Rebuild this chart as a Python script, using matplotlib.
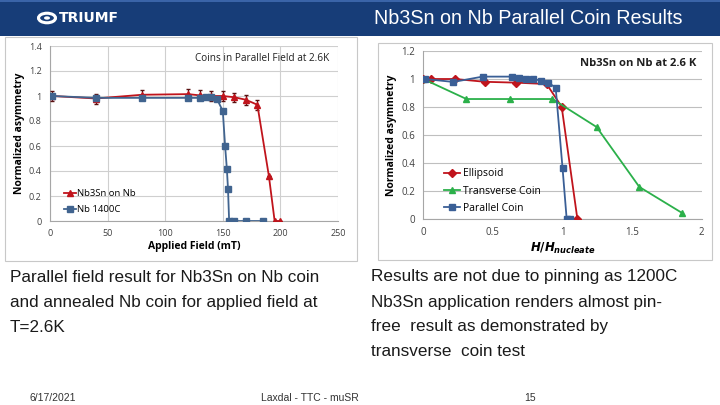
import matplotlib.pyplot as plt
from matplotlib.patches import Rectangle, Circle

# left chart: coins in parallel field at 2.6K
field_nb3sn = [2, 40, 80, 120, 130, 140, 150, 160, 170, 180, 190, 195, 200]
asym_nb3sn = [1.0, 0.98, 1.01, 1.015, 1.005, 1.0, 1.0, 0.99, 0.97, 0.93, 0.36, 0.0, 0.0]
err_nb3sn = [0.04, 0.04, 0.04, 0.04, 0.04, 0.04, 0.04, 0.035, 0.04, 0.04, 0, 0, 0]
field_nb1400 = [2, 40, 80, 120, 130, 135, 140, 145, 150, 152, 153.5, 154.5, 155.5, 160, 170, 185]
asym_nb1400 = [1.0, 0.985, 0.985, 0.985, 0.985, 0.99, 0.995, 0.975, 0.88, 0.6, 0.42, 0.26, 0.0, 0.0, 0.0, 0.0]

# right chart: Nb3Sn on Nb at 2.6 K vs H/Hnucleate
h_ellipsoid = [0.0, 0.055, 0.228, 0.443, 0.663, 0.886, 0.994, 1.107]
a_ellipsoid = [1.0, 1.0, 1.0, 0.98, 0.974, 0.964, 0.802, 0.0]
h_transverse = [0.0, 0.31, 0.623, 0.927, 1.245, 1.552, 1.856]
a_transverse = [1.0, 0.857, 0.857, 0.857, 0.657, 0.229, 0.045]
h_parallel = [0.01, 0.216, 0.426, 0.635, 0.687, 0.738, 0.79, 0.846, 0.898, 0.951, 1.0, 1.03, 1.054]
a_parallel = [1.0, 0.979, 1.017, 1.017, 1.01, 1.002, 1.0, 0.988, 0.974, 0.938, 0.367, 0.0, 0.0]

slide_title = "Nb3Sn on Nb Parallel Coin Results"
left_caption = ["Parallel field result for Nb3Sn on Nb coin",
                "and annealed Nb coin for applied field at",
                "T=2.6K"]
right_caption = ["Results are not due to pinning as 1200C",
                 "Nb3Sn application renders almost pin-",
                 "free  result as demonstrated by",
                 "transverse  coin test"]

W, H = 720, 405
plt.rcParams['mathtext.fontset'] = 'custom'
plt.rcParams['mathtext.it'] = 'DejaVu Sans:italic:bold'
plt.rcParams['mathtext.rm'] = 'DejaVu Sans:bold'
fig = plt.figure(figsize=(7.2, 4.05), dpi=100)
body_font = ['Liberation Sans', 'DejaVu Sans']
chart_font = ['Open Sans', 'DejaVu Sans']

def fx(px):
    return px / W

def fy(py):
    return 1 - py / H

# header banner
fig.patches.append(Rectangle((0, fy(36)), 1, 36 / H, transform=fig.transFigure,
                             facecolor='#173d78', edgecolor='none', zorder=-2))
fig.patches.append(Rectangle((0, fy(2)), 1, 2 / H, transform=fig.transFigure,
                             facecolor='#3a64a8', edgecolor='none', zorder=-1))
fig.patches.append(Circle((fx(47), fy(18)), 8.5 / W, transform=fig.transFigure,
                          facecolor='none', edgecolor='white', lw=2.2, zorder=-1))
fig.patches.append(Circle((fx(47), fy(18)), 3 / W, transform=fig.transFigure,
                          facecolor='white', edgecolor='none', zorder=-1))
fig.text(fx(59), fy(18), "TRIUMF", color='white', fontsize=10, fontweight='bold',
         family='DejaVu Sans', va='center', ha='left')
fig.text(fx(683), fy(18), slide_title, color='white', fontsize=14.2,
         family='Liberation Sans', va='center', ha='right')

# image frames
for x0, y0, x1, y1 in [(5, 37, 357, 261), (378, 43, 712, 260)]:
    fig.patches.append(Rectangle((fx(x0), fy(y1)), (x1 - x0) / W, (y1 - y0) / H,
                                 transform=fig.transFigure, facecolor='white',
                                 edgecolor='#c8c8c8', lw=0.8, zorder=-2))

def style_axes(ax):
    ax.set_facecolor('none')
    for s in ['top', 'right']:
        ax.spines[s].set_visible(False)
    for s in ['left', 'bottom']:
        ax.spines[s].set_color('#a6a6a6')
        ax.spines[s].set_linewidth(0.8)
    ax.tick_params(length=0, labelsize=6.5, colors='#404040', pad=6)
    for lab in ax.get_xticklabels() + ax.get_yticklabels():
        lab.set_family(chart_font)

# left chart
ax1 = fig.add_axes([fx(50), fy(221), (338 - 50) / W, (221 - 46) / H])
ax1.set_xlim(0, 250)
ax1.set_ylim(0, 1.4)
ax1.set_xticks([0, 50, 100, 150, 200, 250])
ax1.set_yticks([0, 0.2, 0.4, 0.6, 0.8, 1.0, 1.2, 1.4])
ax1.set_yticklabels(['0', '0.2', '0.4', '0.6', '0.8', '1', '1.2', '1.4'])
ax1.grid(True, color='#cfcfcf', lw=0.8)
ax1.set_axisbelow(True)
red1 = ax1.errorbar(field_nb3sn, asym_nb3sn, yerr=err_nb3sn, color='#c0141c', marker='^',
                    ms=4, lw=1.3, elinewidth=0.9, ecolor='#5a1010', capsize=1.2,
                    zorder=3)
blue1, = ax1.plot(field_nb1400, asym_nb1400, color='#41648f', marker='s', ms=3.8, lw=1.3,
                  zorder=4)
style_axes(ax1)
ax1.set_xlabel('Applied Field (mT)', fontsize=7.5, fontweight='bold', family=chart_font,
               labelpad=2)
ax1.set_ylabel('Normalized asymmetry', fontsize=7.5, fontweight='bold', family=chart_font,
               labelpad=3)
ax1.text(0.97, 0.93, 'Coins in Parallel Field at 2.6K', transform=ax1.transAxes,
         ha='right', va='center', fontsize=7.2, family=chart_font, color='#202020')
ax1.legend([red1.lines[0], blue1], ['Nb3Sn on Nb', 'Nb 1400C'], loc='lower left',
           bbox_to_anchor=(0.02, -0.01), frameon=False,
           handlelength=1.2, handletextpad=0.1, labelspacing=0.75,
           prop={'family': chart_font, 'size': 6.8})

# right chart
ax2 = fig.add_axes([fx(423.3), fy(219), (701.7 - 423.3) / W, (219 - 51) / H])
ax2.set_xlim(0, 2)
ax2.set_ylim(0, 1.2)
ax2.set_xticks([0, 0.5, 1, 1.5, 2])
ax2.set_xticklabels(['0', '0.5', '1', '1.5', '2'])
ax2.set_yticks([0, 0.2, 0.4, 0.6, 0.8, 1.0, 1.2])
ax2.set_yticklabels(['0', '0.2', '0.4', '0.6', '0.8', '1', '1.2'])
ax2.grid(True, axis='y', color='#bfbfbf', lw=0.8)
ax2.set_axisbelow(True)
ax2.plot(h_ellipsoid, a_ellipsoid, color='#c0141c', marker='D', ms=3.8, lw=1.3,
         label='Ellipsoid', zorder=3)
ax2.plot(h_transverse, a_transverse, color='#2bb04a', marker='^', ms=4.5, lw=1.3,
         label='Transverse Coin', zorder=3)
ax2.plot(h_parallel, a_parallel, color='#3a5f96', marker='s', ms=4, lw=1.3,
         label='Parallel Coin', zorder=4)
style_axes(ax2)
ax2.tick_params(labelsize=7)
ax2.set_xlabel(r'$H/H_{nucleate}$', fontsize=8.5, labelpad=2)
ax2.set_ylabel('Normalized asymmetry', fontsize=7.5, fontweight='bold', family=chart_font,
               labelpad=3)
ax2.text(0.98, 0.925, 'Nb3Sn on Nb at 2.6 K', transform=ax2.transAxes,
         ha='right', va='center', fontsize=8.1, fontweight='bold', family=chart_font,
         color='#202020')
ax2.legend(loc='lower left', bbox_to_anchor=(0.04, -0.025), frameon=False,
           handlelength=1.6, handletextpad=0.2, labelspacing=0.6,
           prop={'family': chart_font, 'size': 7.5})

# captions
for i, line in enumerate(left_caption):
    fig.text(fx(10), fy(277 + 25 * i), line, fontsize=12.3, family=body_font,
             va='center', ha='left', color='#1a1a1a')
for i, line in enumerate(right_caption):
    fig.text(fx(371), fy(277 + 25 * i), line, fontsize=12.3, family=body_font,
             va='center', ha='left', color='#1a1a1a')

# footer
fig.text(fx(30), fy(398), '6/17/2021', fontsize=7.5, family='Liberation Sans',
         va='center', ha='left', color='#333333')
fig.text(fx(310), fy(398), 'Laxdal - TTC - muSR', fontsize=7.5,
         family='Liberation Sans', va='center', ha='center', color='#333333')
fig.text(fx(530), fy(398), '15', fontsize=7.5, family='Liberation Sans',
         va='center', ha='center', color='#333333')

fig.savefig('out.png', dpi=100)
